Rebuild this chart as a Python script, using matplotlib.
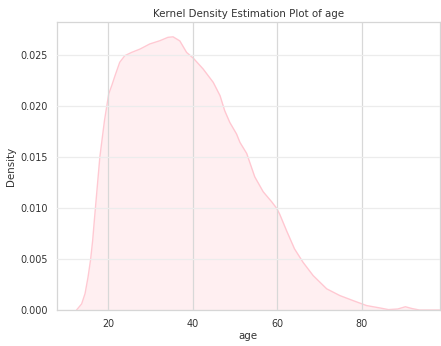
import numpy as np
import matplotlib.pyplot as plt
import seaborn as sns

# values
age = [12.6, 13.8, 14.6, 15.3, 15.9, 16.4, 16.8, 17.2, 18.1, 19.2, 20.2, 20.9,
       21.7, 22.8, 24.0, 25.6, 27.6, 29.9, 32.3, 34.2, 35.4, 37.0, 38.6, 40.2,
       42.5, 44.9, 46.5, 47.6, 48.8, 50.4, 51.2, 52.8, 54.7, 56.7, 58.7, 59.9,
       60.6, 62.2, 64.1, 66.1, 68.5, 71.7, 74.8, 77.9, 81.1, 84.3, 86.3, 88.5,
       90.3, 91.8, 93.6, 98.4]
density = [0.0, 0.0006, 0.0016, 0.0032, 0.0049, 0.0068, 0.0088, 0.0107, 0.0150,
           0.0186, 0.0212, 0.0220, 0.0230, 0.0243, 0.02495, 0.02527, 0.0256,
           0.0261, 0.02642, 0.02675, 0.0268, 0.0264, 0.02527, 0.0247, 0.02365,
           0.02233, 0.02103, 0.01956, 0.01841, 0.01727, 0.01645, 0.01536,
           0.01307, 0.0116, 0.01062, 0.00997, 0.0094, 0.0078, 0.006, 0.00469,
           0.00338, 0.00208, 0.00142, 0.00093, 0.00044, 0.0002, 0.00004, 0.0001,
           0.00032, 0.00015, 0.0, 0.0]

x_ticks = [20, 40, 60, 80]
y_ticks = [0.000, 0.005, 0.010, 0.015, 0.020, 0.025]

sns.set_theme(style='whitegrid')
plt.rcParams['font.family'] = ['DejaVu Sans']

fig = plt.figure(figsize=(4.41, 3.46), dpi=100)
ax = fig.add_axes([0.129, 0.104, 0.868, 0.832])

ax.fill_between(age, density, color='pink', alpha=0.25, lw=0)
ax.plot(age, density, color='pink', lw=1.0, alpha=0.85)

ax.set_xlim(7.95, 98.4)
ax.set_ylim(0, 0.02824)
ax.set_xticks(x_ticks)
ax.set_yticks(y_ticks)
ax.set_yticklabels([f'{v:.3f}' for v in y_ticks])

ax.grid(axis='x', color='#d8d8d8', lw=0.9)
ax.grid(axis='y', color='#ececec', lw=0.9)
ax.set_axisbelow(False)
for s in ax.spines.values():
    s.set_color('#d6d6d6')
    s.set_linewidth(0.9)

ax.tick_params(axis='both', labelsize=6.9, colors='#333333', length=0, pad=6.3)
ax.set_xlabel('age', fontsize=7.4, color='#333333', labelpad=1.5)
ax.set_ylabel('Density', fontsize=7.4, color='#333333', labelpad=3)
ax.set_title('Kernel Density Estimation Plot of age', fontsize=7.4, color='#333333', pad=4)

fig.savefig('out.png', dpi=100)
